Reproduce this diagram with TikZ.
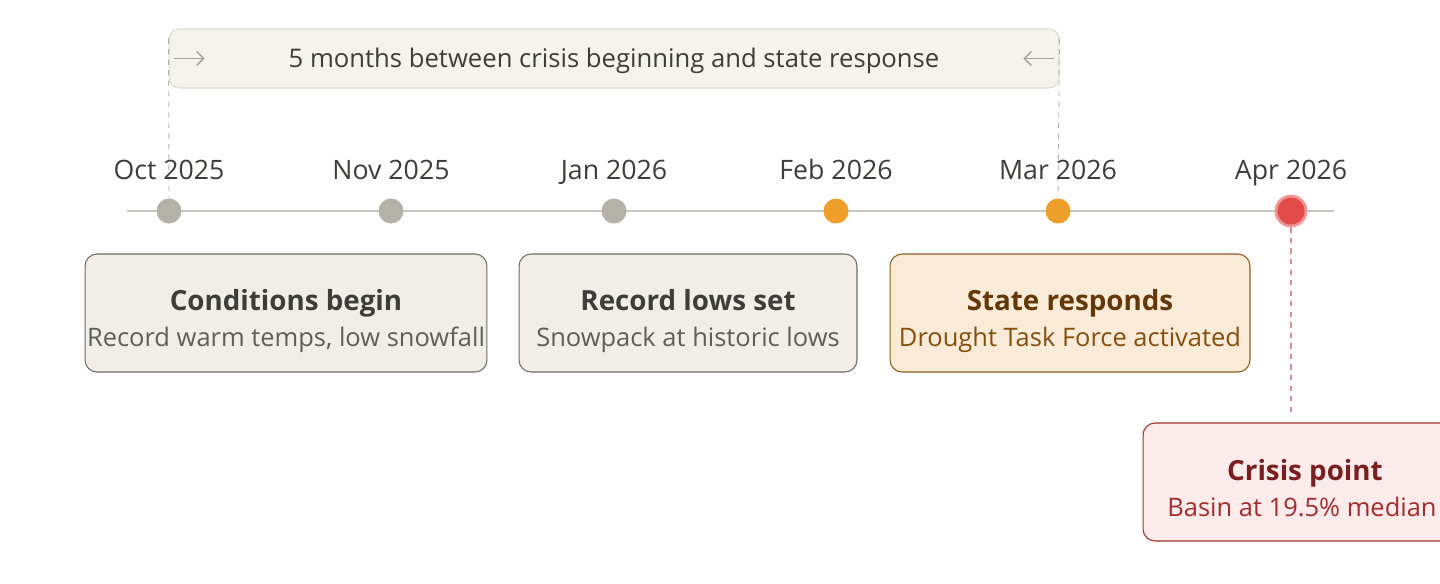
\documentclass[tikz,border=0pt]{standalone}
\usepackage{fontspec}
\setmainfont{Open Sans}
\usetikzlibrary{positioning,arrows.meta}
\definecolor{ink}{HTML}{3D3D3A}
\definecolor{inksoft}{HTML}{5F5E5A}
\definecolor{bannerfill}{HTML}{F4F3EC}
\definecolor{bannerline}{HTML}{DEDCD4}
\definecolor{axisgray}{HTML}{C9C7C1}
\definecolor{dotgray}{HTML}{B4B1A9}
\definecolor{guidegray}{HTML}{B4B2A9}
\definecolor{arrowgray}{HTML}{A3A19A}
\definecolor{cardfill}{HTML}{F1EEE8}
\definecolor{cardline}{HTML}{6E6C67}
\definecolor{dotorange}{HTML}{EFA02A}
\definecolor{statefill}{HTML}{FAEBD8}
\definecolor{stateline}{HTML}{8F5A1D}
\definecolor{statetitle}{HTML}{633806}
\definecolor{statesub}{HTML}{854F0B}
\definecolor{dotred}{HTML}{E24B4A}
\definecolor{redring}{HTML}{F09595}
\definecolor{crisisfill}{HTML}{FCEBEB}
\definecolor{crisisline}{HTML}{A32D2D}
\definecolor{crisistitle}{HTML}{791F1F}
\definecolor{crisissub}{HTML}{A32D2D}
\definecolor{reddash}{HTML}{DA8E8E}
\tikzset{
  banner/.style={draw=bannerline, fill=bannerfill, rounded corners=0.2cm, line width=0.6pt,
    minimum width=17.8cm, minimum height=1.18cm},
  bannertext/.style={anchor=base, text=ink, font=\fontsize{14.6}{17}\selectfont},
  datelbl/.style={anchor=base, text=ink, font=\fontsize{15.2}{18}\selectfont},
  dot/.style={circle, inner sep=0pt, minimum size=0.5cm},
  card/.style={draw=cardline, fill=cardfill, rounded corners=0.24cm, line width=0.6pt,
    minimum height=2.36cm},
  cardtitle/.style={anchor=base, text=ink, font=\bfseries\fontsize{15.8}{19}\selectfont},
  cardsub/.style={anchor=base, text=inksoft, font=\fontsize{14.5}{17}\selectfont},
  guide/.style={draw=guidegray, dashed, line width=0.5pt},
  spanarrow/.style={-{Straight Barb[length=4pt,width=8pt]}, draw=arrowgray, line width=0.75pt}
}
\begin{document}
\begin{tikzpicture}[x=0.02cm,y=-0.02cm]
	\clip (0,0) rectangle (1440,583);
	\fill[white] (0,0) rectangle (1440,583);
	% the span between first signs and the response
	\node[banner] (span) at (614,58.5) {};
	\node[bannertext] (span text) at (614,67.5) {5 months between crisis beginning and state response};
	\draw[spanarrow] ([xshift=0.1cm]span.west) -- ([xshift=0.72cm]span.west);
	\draw[spanarrow] ([xshift=-0.1cm]span.east) -- ([xshift=-0.72cm]span.east);
	% timeline
	\coordinate (tl start) at (127,211);
	\coordinate (tl end) at (1334,211);
	\draw[axisgray, line width=1.1pt] (tl start) -- (tl end);
	\node[dot, fill=dotgray] (oct) at (169,211) {};
	\node[dot, fill=dotgray] (nov) at (391,211) {};
	\node[dot, fill=dotgray] (jan) at (614,211) {};
	\node[dot, fill=dotorange] (feb) at (836,211) {};
	\node[dot, fill=dotorange] (mar) at (1058,211) {};
	\draw[guide] ([yshift=-0.2cm]span.north west) -- (oct.north);
	\draw[guide] ([yshift=-0.2cm]span.north east) -- (mar.north);
	\node[dot, fill=dotred, draw=redring, line width=1.6pt, minimum size=0.6cm] (apr) at (1291,211) {};
	\node[datelbl] (oct lbl) at (169,179) {Oct 2025};
	\node[datelbl] (nov lbl) at (391,179) {Nov 2025};
	\node[datelbl] (jan lbl) at (614,179) {Jan 2026};
	\node[datelbl] (feb lbl) at (836,179) {Feb 2026};
	\node[datelbl] (mar lbl) at (1058,179) {Mar 2026};
	\node[datelbl] (apr lbl) at (1291,179) {Apr 2026};
	% event cards
	\node[card, minimum width=8.04cm] (begin) at (286,313) {};
	\node[cardtitle] (begin title) at (286,310) {Conditions begin};
	\node[cardsub] (begin sub) at (286,346.5) {Record warm temps, low snowfall};
	\node[card, minimum width=6.76cm] (lows) at (688,313) {};
	\node[cardtitle] (lows title) at (688,310) {Record lows set};
	\node[cardsub] (lows sub) at (688,346.5) {Snowpack at historic lows};
	\node[card, draw=stateline, fill=statefill, minimum width=7.2cm] (state) at (1070,313) {};
	\node[cardtitle, text=statetitle] (state title) at (1070,310) {State responds};
	\node[cardsub, text=statesub] (state sub) at (1070,346.5) {Drought Task Force activated};
	% crisis
	\coordinate (crisis tip) at (1291,413);
	\draw[reddash, dashed, line width=0.6pt] (apr.south) -- (crisis tip);
	\node[card, draw=crisisline, fill=crisisfill, minimum width=6.48cm] (crisis) at (1305,482) {};
	\node[cardtitle, text=crisistitle] (crisis title) at (1305,480.5) {Crisis point};
	\node[cardsub, text=crisissub] (crisis sub) at (1302,516.5) {Basin at 19.5\% median};
\end{tikzpicture}
\end{document}
